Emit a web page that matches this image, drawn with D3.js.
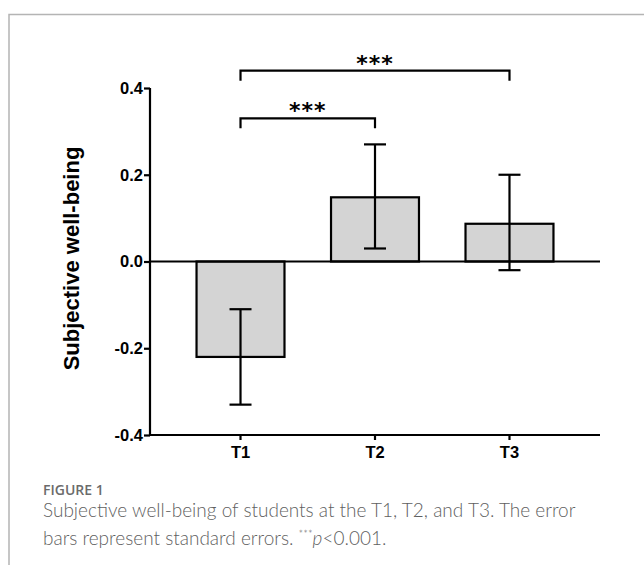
<!DOCTYPE html>
<html>
<head>
<meta charset="utf-8">
<script src="https://cdn.jsdelivr.net/npm/d3@7"></script>
<style>
  html, body { margin: 0; padding: 0; background: #fff; }
  svg { display: block; }
</style>
</head>
<body>
<svg id="chart" width="644" height="565"></svg>
<script>
// ---- data ----
const categories = ["T1", "T2", "T3"];
const means = [-0.22, 0.148, 0.087];
const errLow = [-0.33, 0.03, -0.02];
const errHigh = [-0.11, 0.27, 0.20];
const yTicks = [-0.4, -0.2, 0.0, 0.2, 0.4];
const sigFrom = ["T1", "T1"];
const sigTo = ["T2", "T3"];
const sigLevel = [0.33, 0.44];
const sigLabel = ["***", "***"];

const svg = d3.select("#chart");

// frame
svg.append("path")
  .attr("d", "M9,565 L9,14.5 L644,14.5")
  .attr("fill", "none").attr("stroke", "#b4b4b4").attr("stroke-width", 1.5);

const x = d3.scaleBand().domain(categories).range([150, 600]).paddingInner(0.346).paddingOuter(0.346);
const y = d3.scaleLinear().domain([-0.4, 0.4]).range([435, 88]);

const g = svg.append("g");
const axisFont = "'Liberation Sans', Arial, sans-serif";

// bars
g.selectAll("rect.bar").data(categories).join("rect")
  .attr("class", "bar")
  .attr("x", d => x(d))
  .attr("width", x.bandwidth())
  .attr("y", (d, i) => Math.min(y(means[i]), y(0)))
  .attr("height", (d, i) => Math.abs(y(means[i]) - y(0)))
  .attr("fill", "#d4d4d4").attr("stroke", "#000").attr("stroke-width", 2.2);

// zero line
g.append("line")
  .attr("x1", 150).attr("x2", 600)
  .attr("y1", y(0)).attr("y2", y(0))
  .attr("stroke", "#000").attr("stroke-width", 2.2);

// error bars
const capW = 22;
categories.forEach((c, i) => {
  const cx = x(c) + x.bandwidth() / 2;
  g.append("line").attr("x1", cx).attr("x2", cx)
    .attr("y1", y(errLow[i])).attr("y2", y(errHigh[i]))
    .attr("stroke", "#000").attr("stroke-width", 2.2);
  [errLow[i], errHigh[i]].forEach(v => {
    g.append("line").attr("x1", cx - capW / 2).attr("x2", cx + capW / 2)
      .attr("y1", y(v)).attr("y2", y(v))
      .attr("stroke", "#000").attr("stroke-width", 2.2);
  });
});

// axes
const yAxis = d3.axisLeft(y).tickValues(yTicks).tickFormat(d3.format(".1f")).tickSize(6).tickSizeOuter(0);
const ga = svg.append("g").attr("transform", "translate(150,0)").call(yAxis);
ga.select(".domain").attr("stroke-width", 2.2).attr("d", `M0,${y(-0.4)}V${y(0.4)}`);
ga.selectAll(".tick line").attr("stroke-width", 2.2);
ga.selectAll(".tick text")
  .attr("font-family", axisFont)
  .attr("font-weight", "bold").attr("font-size", 16.5).attr("fill", "#000").attr("x", -7)
  .text(d => d3.format(".1f")(d).replace("−", "-"));

const xAxis = d3.axisBottom(x).tickSize(5).tickSizeOuter(0);
const gx = svg.append("g").attr("transform", `translate(0,${y(-0.4)})`).call(xAxis);
gx.select(".domain").attr("stroke-width", 2.2).attr("d", "M149,0H600");
gx.selectAll(".tick line").attr("stroke-width", 2.2);
gx.selectAll(".tick text")
  .attr("font-family", axisFont)
  .attr("font-weight", "bold").attr("font-size", 16.5).attr("fill", "#000").attr("y", 11);

// y label
svg.append("text")
  .attr("transform", `translate(79,${y(0) - 3}) rotate(-90)`)
  .attr("text-anchor", "middle")
  .attr("font-family", axisFont)
  .attr("font-weight", "bold").attr("font-size", 22)
  .text("Subjective well-being");

// significance brackets
sigFrom.forEach((f, i) => {
  const x1 = x(f) + x.bandwidth() / 2, x2 = x(sigTo[i]) + x.bandwidth() / 2;
  const yy = y(sigLevel[i]);
  svg.append("path")
    .attr("d", `M${x1},${yy + 10}V${yy}H${x2}V${yy + 10}`)
    .attr("fill", "none").attr("stroke", "#000").attr("stroke-width", 2.2);
  svg.append("text")
    .attr("x", (x1 + x2) / 2).attr("y", yy)
    .attr("text-anchor", "middle")
    .attr("font-family", "'DejaVu Sans', sans-serif")
    .attr("font-weight", "bold").attr("font-size", 22)
    .attr("letter-spacing", 1)
    .text(sigLabel[i]);
});

// caption
svg.append("text")
  .attr("x", 43).attr("y", 495)
  .attr("font-family", "'Open Sans', sans-serif").attr("font-weight", 600)
  .attr("font-size", 14).attr("fill", "#6b6b6b")
  .text("FIGURE 1");
const capFont = "Lato, 'Open Sans', sans-serif";
svg.append("text")
  .attr("x", 43).attr("y", 517)
  .attr("font-family", capFont).attr("font-weight", 300)
  .attr("font-size", 19).attr("fill", "#5f5f5f")
  .text("Subjective well-being of students at the T1, T2, and T3. The error");
const l2 = svg.append("text")
  .attr("x", 43).attr("y", 545)
  .attr("font-family", capFont).attr("font-weight", 300)
  .attr("font-size", 19).attr("fill", "#5f5f5f");
l2.append("tspan").text("bars represent standard errors. ");
l2.append("tspan").attr("font-size", 11).attr("dy", -7).text("***");
l2.append("tspan").attr("dy", 7).attr("font-style", "italic").text("p");
l2.append("tspan").text("<0.001.");
</script>
</body>
</html>
